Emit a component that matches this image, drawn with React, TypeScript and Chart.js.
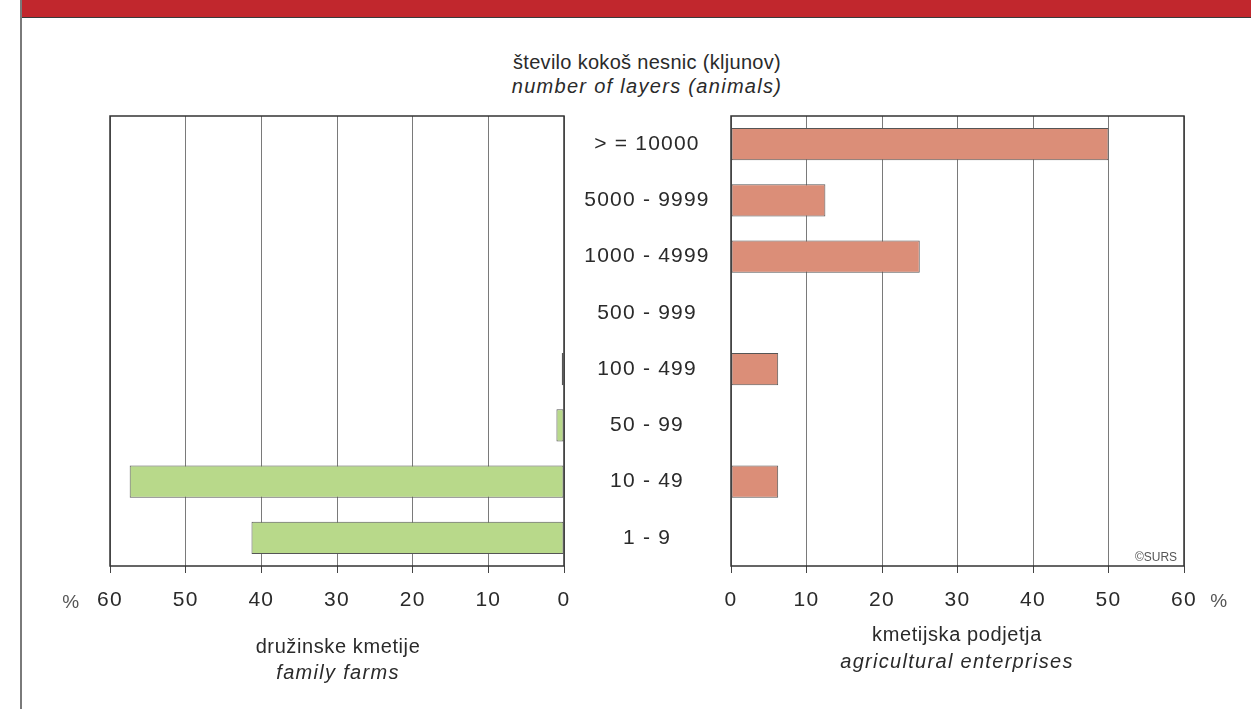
import React, { useEffect, useRef } from "react";
import { Chart, registerables } from "chart.js";

Chart.register(...registerables);

// ---------------- data ----------------
const CATEGORIES = [
  "> = 10000",
  "5000 - 9999",
  "1000 - 4999",
  "500 - 999",
  "100 - 499",
  "50 - 99",
  "10 - 49",
  "1 - 9",
];
// družinske kmetije / family farms (%)
const FAMILY_FARMS = [0, 0, 0, 0, 0.3, 1.0, 57.4, 41.3];
// kmetijska podjetja / agricultural enterprises (%)
const ENTERPRISES = [50, 12.5, 25, 0, 6.25, 0, 6.25, 0];
const X_MIN = 0;
const X_MAX = 60;
const X_STEP = 10;

const TITLE_SL = "število kokoš nesnic (kljunov)";
const TITLE_EN = "number of layers (animals)";
const LEFT_SL = "družinske kmetije";
const LEFT_EN = "family farms";
const RIGHT_SL = "kmetijska podjetja";
const RIGHT_EN = "agricultural enterprises";
const UNIT = "%";
const SOURCE = "©SURS";

// ---------------- styles ----------------
const FONT = '"Liberation Sans", Arial, Helvetica, sans-serif';
const TICK_SIZE = 21;
const CAT_SIZE = 21;
const SPACING = 1.2;
const GREEN = "#b8d98a";
const SALMON = "#db8e78";
const BAR_BORDER = "#555555";
const GRID = "#7a7a7a";
const FRAME = "#333333";
const TEXT = "#2a2a2a";

const framePlugin = {
  id: "frame",
  afterDatasetsDraw(chart: any) {
    const { ctx, chartArea: a } = chart;
    ctx.save();
    ctx.strokeStyle = FRAME;
    ctx.lineWidth = 1.5;
    ctx.strokeRect(a.left, a.top, a.right - a.left, a.bottom - a.top);
    ctx.restore();
  },
};

const spacingPlugin = {
  id: "spacing",
  beforeUpdate(chart: any) {
    (chart.ctx as any).letterSpacing = SPACING + "px";
  },
  beforeDraw(chart: any) {
    (chart.ctx as any).letterSpacing = SPACING + "px";
  },
};

function xScale(reverse: boolean) {
  return {
    type: "linear" as const,
    position: "bottom" as const,
    reverse,
    min: X_MIN,
    max: X_MAX,
    ticks: {
      stepSize: X_STEP,
      font: { family: FONT, size: TICK_SIZE },
      color: TEXT,
      padding: 15,
      maxRotation: 0,
      autoSkip: false,
    },
    grid: {
      color: GRID,
      lineWidth: 1,
      tickLength: 7,
      tickColor: "#444",
      drawTicks: true,
    },
    border: { display: false },
    afterFit(scale: any) {
      scale.height = 74;
      scale.paddingLeft = 0;
      scale.paddingRight = 0;
    },
  };
}

function measureWidest(labels: string[]) {
  const c = document.createElement("canvas");
  const ctx = c.getContext("2d") as any;
  ctx.font = `${CAT_SIZE}px ${FONT}`;
  ctx.letterSpacing = SPACING + "px";
  let w = 0;
  for (const l of labels) w = Math.max(w, ctx.measureText(l).width);
  return w;
}

export default function App() {
  const leftRef = useRef<HTMLCanvasElement>(null);
  const rightRef = useRef<HTMLCanvasElement>(null);

  useEffect(() => {
    const left = new Chart(leftRef.current!, {
      type: "bar",
      data: {
        labels: CATEGORIES,
        datasets: [
          {
            data: FAMILY_FARMS,
            backgroundColor: GREEN,
            borderColor: BAR_BORDER,
            borderWidth: 1,
            borderSkipped: false,
            barPercentage: 0.57,
            categoryPercentage: 1,
          },
        ],
      },
      options: {
        indexAxis: "y",
        animation: false,
        responsive: false,
        devicePixelRatio: 1,
        layout: { padding: { left: 50, right: 20, top: 16, bottom: 0 } },
        plugins: { legend: { display: false }, tooltip: { enabled: false } },
        scales: {
          x: xScale(true),
          y: { type: "category", display: false },
        },
      },
      plugins: [framePlugin, spacingPlugin],
    });

    const widest = measureWidest(CATEGORIES);
    const axisWidth = 168;
    const pad = Math.max(0, axisWidth / 2 - widest / 2);

    const right = new Chart(rightRef.current!, {
      type: "bar",
      data: {
        labels: CATEGORIES,
        datasets: [
          {
            data: ENTERPRISES,
            backgroundColor: SALMON,
            borderColor: BAR_BORDER,
            borderWidth: 1,
            borderSkipped: false,
            barPercentage: 0.57,
            categoryPercentage: 1,
          },
        ],
      },
      options: {
        indexAxis: "y",
        animation: false,
        responsive: false,
        devicePixelRatio: 1,
        layout: { padding: { left: 0, right: 59, top: 16, bottom: 0 } },
        plugins: { legend: { display: false }, tooltip: { enabled: false } },
        scales: {
          x: xScale(false),
          y: {
            type: "category",
            position: "left",
            grid: { display: false, drawTicks: false },
            border: { display: false },
            ticks: {
              font: { family: FONT, size: CAT_SIZE },
              color: TEXT,
              crossAlign: "center",
              padding: pad,
              autoSkip: false,
            },
            afterFit(scale: any) {
              scale.width = axisWidth;
              scale.paddingTop = 0;
              scale.paddingBottom = 0;
            },
          },
        },
      },
      plugins: [framePlugin, spacingPlugin],
    });

    return () => {
      left.destroy();
      right.destroy();
    };
  }, []);

  const txt = (
    content: string,
    cx: number,
    cy: number,
    extra: React.CSSProperties = {}
  ) => (
    <div
      style={{
        position: "absolute",
        left: cx,
        top: cy,
        transform: "translate(-50%, -50%)",
        whiteSpace: "nowrap",
        fontFamily: FONT,
        fontSize: 20,
        letterSpacing: "0.6px",
        color: TEXT,
        lineHeight: 1,
        ...extra,
      }}
    >
      {content}
    </div>
  );

  const ital = { fontStyle: "italic" as const, letterSpacing: "1.3px" };

  return (
    <div
      style={{
        position: "fixed",
        left: 0,
        top: 0,
        width: 1251,
        height: 709,
        background: "#ffffff",
        overflow: "hidden",
      }}
    >
      <div
        style={{
          position: "absolute",
          left: 20,
          top: 0,
          width: 1231,
          height: 17,
          background: "#c1272d",
          borderBottom: "1.5px solid #3a3a3a",
        }}
      />
      <div
        style={{
          position: "absolute",
          left: 20,
          top: 0,
          width: 1.5,
          height: 709,
          background: "#7a7a7a",
        }}
      />
      {txt(TITLE_SL, 647, 62, { letterSpacing: "0.3px" })}
      {txt(TITLE_EN, 647, 86, ital)}
      <canvas
        ref={leftRef}
        width={524}
        height={540}
        style={{ position: "absolute", left: 60, top: 100, width: 524, height: 540 }}
      />
      <canvas
        ref={rightRef}
        width={680}
        height={540}
        style={{ position: "absolute", left: 563, top: 100, width: 680, height: 540 }}
      />
      {txt(UNIT, 71, 601, { color: "#555", fontSize: 19 })}
      {txt(UNIT, 1219, 600, { color: "#555", fontSize: 19 })}
      {txt(SOURCE, 1156, 557, { color: "#555", fontSize: 12, letterSpacing: "0px" })}
      {txt(LEFT_SL, 338, 646)}
      {txt(LEFT_EN, 338, 672, ital)}
      {txt(RIGHT_SL, 957, 634)}
      {txt(RIGHT_EN, 957, 661, ital)}
    </div>
  );
}
